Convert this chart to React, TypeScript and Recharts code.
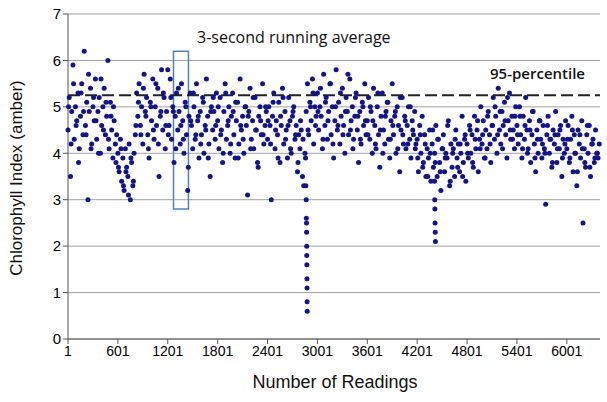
import { CartesianGrid, ReferenceArea, ReferenceLine, Scatter, ScatterChart, XAxis, YAxis } from 'recharts'

const STEP = 15
const readings: number[] = [
  // 1-600
  4.5, 5.2, 3.5, 4.9, 5.9, 4.3, 5.0, 4.7, 5.3, 4.1, 4.8, 5.5, 4.4, 6.2, 4.6, 5.1, 3.0, 4.9, 5.4, 4.2,
  5.0, 4.7, 5.6, 4.3, 4.9, 5.2, 4.0, 4.6, 5.0, 5.4, 4.4, 4.8, 6.0, 4.1, 5.1, 4.5, 3.9, 4.7, 4.2, 4.4,
  // 601-1200
  4.0, 3.6, 4.3, 3.4, 3.9, 3.2, 4.1, 3.7, 3.5, 4.2, 3.0, 3.8, 3.3, 4.0, 4.4, 5.3, 4.8, 5.5, 4.6, 5.0,
  4.2, 5.7, 4.9, 5.2, 4.4, 3.9, 5.1, 4.7, 5.6, 4.3, 5.0, 4.6, 5.4, 3.5, 4.8, 5.8, 4.5, 5.2, 4.1, 4.9,
  // 1201-1800
  5.8, 4.6, 5.6, 4.3, 5.0, 3.8, 4.8, 5.3, 4.5, 4.9, 4.2, 5.5, 4.7, 4.0, 5.1, 4.4, 3.2, 4.8, 5.3, 4.6,
  4.1, 5.0, 4.3, 5.5, 4.7, 3.9, 4.9, 4.4, 5.2, 4.0, 4.6, 5.6, 4.8, 4.2, 3.5, 5.0, 4.5, 4.9, 4.3, 5.3,
  // 1801-2400
  4.7, 4.1, 5.2, 4.5, 3.8, 4.9, 5.5, 4.3, 4.6, 5.0, 4.0, 4.8, 5.3, 4.4, 3.9, 4.7, 5.1, 4.2, 5.6, 4.5,
  4.8, 4.0, 5.0, 4.6, 3.1, 4.9, 5.4, 4.3, 4.7, 4.1, 5.2, 4.5, 3.8, 4.8, 5.0, 4.4, 5.5, 4.2, 4.6, 4.9,
  // 2401-3000
  4.3, 5.0, 4.6, 3.0, 4.8, 5.3, 4.1, 4.7, 4.4, 5.1, 3.8, 4.6, 5.4, 4.2, 4.9, 4.5, 3.9, 5.2, 4.7, 4.0,
  4.8, 5.0, 4.3, 4.6, 3.6, 4.4, 4.1, 4.5, 3.5, 3.3, 4.0, 4.9, 5.5, 4.4, 5.1, 4.7, 5.6, 4.2, 5.0, 4.8,
  // 3001-3600
  5.3, 4.5, 5.0, 4.8, 4.1, 5.7, 4.6, 5.2, 4.3, 4.9, 5.5, 4.4, 5.0, 3.9, 4.7, 5.8, 4.5, 5.1, 4.2, 4.8,
  5.4, 4.6, 4.0, 5.2, 4.9, 4.4, 5.6, 4.7, 5.0, 4.3, 4.8, 5.3, 4.5, 3.8, 4.9, 4.2, 5.1, 4.6, 5.5, 4.4,
  // 3601-4200
  4.7, 5.2, 4.3, 4.9, 4.0, 5.4, 4.6, 4.1, 5.0, 4.4, 3.7, 4.8, 5.3, 4.5, 4.2, 4.9, 5.1, 4.3, 3.9, 4.7,
  5.5, 4.4, 4.8, 4.0, 5.0, 4.6, 3.6, 4.5, 5.2, 4.2, 4.8, 4.1, 4.6, 5.0, 4.3, 3.9, 4.7, 4.4, 4.9, 4.2,
  // 4201-4800
  4.3, 3.6, 4.6, 4.0, 4.8, 3.8, 4.4, 3.5, 4.1, 3.9, 4.5, 3.4, 4.2, 3.7, 4.0, 4.6, 3.5, 4.3, 3.8, 3.2,
  4.1, 4.4, 3.6, 4.0, 3.9, 4.7, 3.3, 4.2, 3.7, 4.1, 3.5, 4.5, 3.9, 4.2, 3.6, 4.0, 4.8, 3.8, 4.3, 3.4,
  // 4801-5400
  4.2, 3.9, 4.6, 4.0, 4.4, 3.7, 4.8, 4.1, 4.5, 3.6, 4.3, 5.0, 4.2, 4.7, 3.9, 4.5, 4.1, 4.9, 4.4, 3.8,
  4.6, 5.2, 4.3, 4.8, 4.0, 5.4, 4.5, 4.2, 4.9, 4.6, 5.1, 4.4, 3.9, 4.7, 5.3, 4.3, 4.8, 4.5, 4.1, 5.0,
  // 5401-6000
  4.6, 4.2, 5.0, 4.4, 3.9, 4.8, 4.3, 5.2, 4.5, 4.1, 4.7, 3.8, 4.4, 4.9, 4.2, 3.6, 4.5, 4.0, 4.7, 4.3,
  3.9, 4.6, 4.1, 2.9, 4.4, 4.8, 4.0, 4.3, 3.7, 4.5, 4.2, 4.9, 3.8, 4.4, 4.1, 4.6, 3.5, 4.3, 4.0, 4.7,
  // 6001-6400
  4.1, 4.6, 3.8, 4.3, 4.8, 3.6, 4.4, 4.0, 3.3, 4.5, 4.2, 3.9, 4.7, 2.5, 4.1, 3.7, 4.4, 4.0, 4.6, 3.5,
  4.2, 4.3, 3.8, 4.5, 4.0, 3.9, 4.2,
]

// second pass of readings, every 30th reading starting at 8
const STEP_B = 30
const readingsB: number[] = [
  5.0, 4.2, 5.5, 4.6, 3.8, 5.3, 4.9, 4.4, 5.7, 4.1, 5.2, 4.7, 4.0, 5.6, 4.5, 5.1, 4.3, 4.8, 5.0, 3.8,
  3.7, 4.1, 3.3, 3.6, 3.1, 3.9, 3.4, 4.6, 5.1, 4.4, 5.4, 4.8, 4.1, 5.0, 4.5, 5.5, 4.2, 4.9, 5.3, 4.6,
  4.4, 5.2, 4.9, 4.1, 5.4, 4.6, 4.3, 5.0, 3.7, 4.7, 5.3, 4.4, 4.8, 4.2, 5.1, 4.5, 3.9, 4.9, 5.2, 4.6,
  5.0, 4.4, 4.0, 5.3, 4.7, 4.2, 4.9, 5.1, 3.9, 4.6, 4.3, 5.0, 4.8, 4.1, 5.2, 4.5, 3.7, 4.7, 4.4, 5.0,
  4.7, 4.2, 5.1, 4.5, 3.9, 4.8, 5.2, 4.3, 4.6, 4.1, 4.9, 4.4, 3.8, 4.7, 4.3, 3.9, 4.5, 5.0, 5.3, 4.6,
  4.9, 5.4, 4.3, 5.1, 4.7, 5.5, 4.2, 5.0, 4.6, 5.3, 4.4, 4.9, 5.7, 4.5, 4.1, 5.2, 4.8, 4.3, 5.0, 4.7,
  4.4, 5.0, 4.7, 4.2, 5.3, 4.5, 4.0, 4.8, 5.1, 4.3, 4.6, 4.9, 4.1, 5.2, 4.4, 4.7, 4.2, 5.0, 4.5, 4.1,
  3.9, 4.4, 3.7, 4.2, 3.5, 4.0, 4.5, 3.8, 4.3, 3.6, 4.1, 3.9, 4.6, 3.4, 4.0, 4.3, 3.7, 4.2, 3.5, 4.4,
  4.0, 4.5, 3.8, 4.3, 4.7, 4.1, 4.4, 3.9, 4.8, 4.2, 4.6, 5.0, 4.4, 4.9, 4.1, 4.7, 5.2, 4.5, 4.3, 4.8,
  4.4, 4.8, 4.1, 4.6, 4.0, 4.5, 4.9, 3.9, 4.3, 4.7, 4.2, 4.0, 4.6, 4.3, 3.8, 4.4, 4.1, 4.5, 3.9, 4.2,
  4.3, 3.9, 4.5, 4.0, 3.6, 4.4, 4.1, 3.8, 4.6, 3.7, 4.2, 3.9, 4.0,
]

// sharp drops near reading 2870 and 4420
const dropReadings = [2862, 2866, 2868, 2870, 2871, 2872, 2873, 2874, 2875, 2876, 2877, 2878, 4410, 4412, 4414, 4416, 4418, 4420]
const dropValues = [3.3, 3.0, 2.6, 2.5, 2.3, 2.0, 1.8, 1.6, 1.3, 1.1, 0.8, 0.6, 3.4, 3.0, 2.8, 2.5, 2.3, 2.1]

const xTicks = [1, 601, 1201, 1801, 2401, 3001, 3601, 4201, 4801, 5401, 6001]
const yTicks = [0, 1, 2, 3, 4, 5, 6, 7]
const percentile95 = 5.25
const boxFrom = 1270
const boxTo = 1450
const boxLow = 2.8
const boxHigh = 6.2

const mainData = readings.map((y, i) => ({ x: 1 + i * STEP, y }))
const secondData = readingsB.map((y, i) => ({ x: 8 + i * STEP_B, y }))
const dropData = dropReadings.map((x, i) => ({ x, y: dropValues[i] }))

const DOT = '#14148a'
const dot = (p: any) => <circle cx={p.cx} cy={p.cy} r={2.5} fill={DOT} />
const font = '"Liberation Sans", Arial, sans-serif'

export default function App() {
  return (
    <div style={{ position: 'absolute', left: 0, top: 0, width: 607, height: 402, background: '#fff' }}>
      <ScatterChart width={607} height={402} margin={{ top: 14, right: 7, bottom: 33, left: 0 }}>
        <CartesianGrid horizontal vertical={false} stroke="#a0a0a0" />
        <XAxis
          type="number"
          dataKey="x"
          domain={[1, 6400]}
          ticks={xTicks}
          interval={0}
          stroke="#555"
          tickSize={5}
          tick={{ fill: '#000', fontSize: 14, fontFamily: font }}
        />
        <YAxis
          type="number"
          dataKey="y"
          domain={[0, 7]}
          ticks={yTicks}
          width={68}
          stroke="#555"
          tickSize={5}
          tick={{ fill: '#000', fontSize: 15, fontFamily: font }}
        />
        <ReferenceLine y={percentile95} stroke="#222" strokeWidth={2} strokeDasharray="12 5" />
        <Scatter data={mainData} shape={dot} isAnimationActive={false} />
        <Scatter data={secondData} shape={dot} isAnimationActive={false} />
        <Scatter data={dropData} shape={dot} isAnimationActive={false} />
        <ReferenceArea x1={boxFrom} x2={boxTo} y1={boxLow} y2={boxHigh} fill="none" fillOpacity={0} stroke="#4f81bd" strokeWidth={1.5} ifOverflow="visible" />
        <text x={197} y={43} fontSize={16} fontFamily='"Open Sans", sans-serif' fill="#111">3-second running average</text>
        <text x={490} y={79} fontSize={15} fontWeight={600} fontFamily='"Open Sans", sans-serif' fill="#111">95-percentile</text>
        <text x={335} y={388} textAnchor="middle" fontSize={18} fontFamily={font} fill="#111">Number of Readings</text>
        <text x={22} y={178} transform="rotate(-90 22 178)" textAnchor="middle" fontSize={17} fontFamily={font} fill="#111">Chlorophyll Index (amber)</text>
      </ScatterChart>
    </div>
  )
}
